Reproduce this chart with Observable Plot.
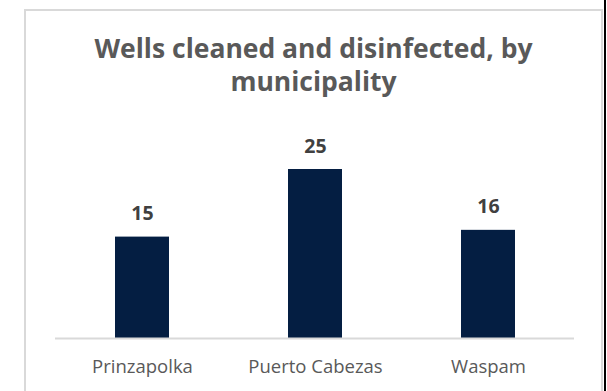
<!DOCTYPE html>
<html>
<head>
<meta charset="utf-8">
<script src="https://cdn.jsdelivr.net/npm/d3@7"></script>
<script src="https://cdn.jsdelivr.net/npm/@observablehq/plot@0.6"></script>
<style>
  html, body { margin: 0; padding: 0; background: #fff; width: 607px; height: 391px; overflow: hidden; position: relative; font-family: "Open Sans", sans-serif; }
  #frame { position: absolute; left: 24px; top: 9px; width: 579px; height: 420px; border: 2px solid #d9d9d9; box-sizing: border-box; }
  #edge { position: absolute; left: 604px; top: 0; width: 2px; height: 391px; background: #000; }
  #title { position: absolute; left: 25px; width: 577px; top: 31.5px; text-align: center; font-weight: 700; font-size: 26.5px; line-height: 33px; color: #595959; white-space: nowrap; }
  #chart { position: absolute; left: 0; top: 0; }
</style>
</head>
<body>
<div id="frame"></div>
<div id="edge"></div>
<div id="title">Wells cleaned and disinfected, by<br>municipality</div>
<div id="chart"></div>
<script>
const municipalities = ["Prinzapolka", "Puerto Cabezas", "Waspam"];
const wells = [15, 25, 16];

const data = municipalities.map((m, i) => ({municipality: m, wells: wells[i]}));

const plot = Plot.plot({
  width: 607,
  height: 391,
  marginLeft: 55,
  marginRight: 33,
  marginTop: 169,
  marginBottom: 53,
  style: {fontFamily: "Open Sans, sans-serif", background: "transparent"},
  x: {domain: municipalities, paddingInner: 0.688, paddingOuter: 0.344, label: null},
  y: {domain: [0, 25], axis: null},
  marks: [
    Plot.barY(data, {x: "municipality", y: "wells", fill: "#041e42"}),
    Plot.ruleY([0], {stroke: "#d9d9d9", strokeWidth: 2}),
    Plot.axisX({tickSize: 0, tickPadding: 21, fontSize: 18.5, fill: "#595959", label: null}),
    Plot.text(data, {x: "municipality", y: "wells", text: d => String(d.wells), lineAnchor: "bottom", dy: -17, fontSize: 19.5, fontWeight: 700, fill: "#404040"})
  ]
});
document.getElementById("chart").appendChild(plot);
</script>
</body>
</html>
